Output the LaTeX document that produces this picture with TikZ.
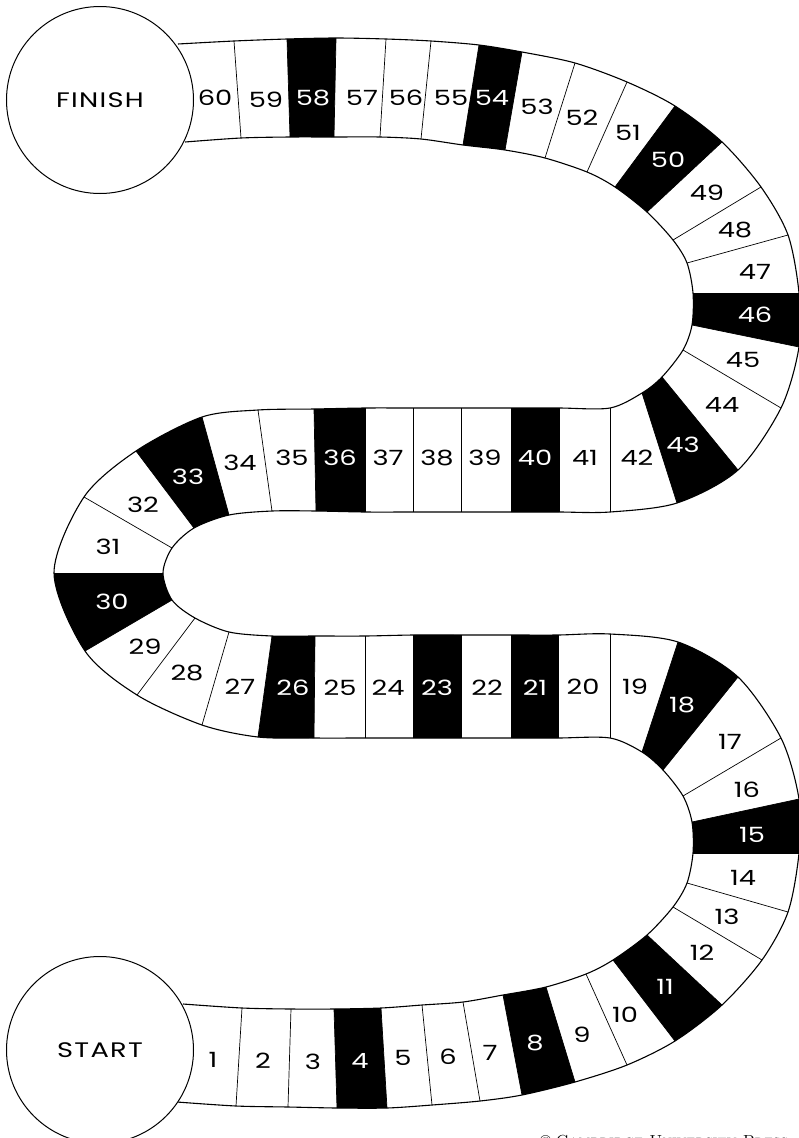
\documentclass[tikz,border=0pt]{standalone}
\usepackage{fontspec}
\newfontfamily\handfont[FakeStretch=1.3]{Poppins}
\newfontfamily\handwide[FakeStretch=1.3,LetterSpace=6]{Poppins}
\usetikzlibrary{calc}

\begin{document}
\begin{tikzpicture}[
    x=1pt,y=-1pt,
    square/.style={font=\handfont\fontsize{21}{21}\selectfont, inner sep=0pt},
    endcircle/.style={circle, draw=black, line width=1pt, fill=white, minimum size=187pt, inner sep=0pt, font=\handwide\fontsize{21}{21}\selectfont},
    rim/.style={draw=black, line width=1.1pt},
    divider/.style={draw=black, line width=0.7pt}
  ]
    \useasboundingbox (0,0) rectangle (798,1138);

    % left-hand edge of the track, start to finish
    \foreach \p [count=\i from 0] in {{183,1004},{242,1008},{291,1009},{334,1009},{381,1008},{422,1005},{463,1002},{503,995},{546,987},{586,974},
      {613,960},{647,935},{673,907},{687,883},{693,853},{692,822},{683,796},{663,770},{642,752},{610,738},
      {558,738},{511,738},{461,738},{413,738},{365,738},{314,738},{258,737},{202,725},{137,695},{85,651},
      {54,573},{84,497},{136,451},{202,417},{258,410},{314,409},{365,408},{413,408},{461,408},{511,408},
      {559,408},{610,408},{642,393},{662,377},{683,350},{692,325},{693,293},{687,263},{673,240},{647,212},
      {615,187},{587,172},{545,158},{505,150},{463,145},{421,139},{380,137},{334,137},{290,137},{241,138},{185,142}}
      \coordinate (a\i) at (\p);
    % right-hand edge
    \foreach \p [count=\i from 0] in {{177,1102},{236,1106},{288,1107},{337,1108},{387,1108},{432,1105},{480,1101},{522,1095},{575,1082},{627,1065},
      {675,1041},{722,1005},{762,960},{788,912},{799,853},{799,799},{781,738},{738,677},{678,642},{610,634},
      {558,635},{511,635},{461,635},{413,635},{365,636},{315,636},{272,636},{229,632},{195,618},{172,600},
      {163,573},{172,548},{194,528},{229,515},{272,511},{316,511},{365,512},{413,512},{461,512},{511,512},
      {559,512},{610,512},{677,503},{738,470},{781,408},{799,347},{799,293},{788,235},{761,187},{722,142},
      {675,106},{627,82},{575,63},{522,52},{479,45},{431,41},{386,39},{336,38},{287,39},{234,41},{178,44}}
      \coordinate (b\i) at (\p);

    % dark squares
    \begin{scope}
      \clip plot[smooth, variable=\k, samples at={0,...,60}] (a\k)
        -- plot[smooth, variable=\k, samples at={60,59,...,0}] (b\k) -- cycle;
      \foreach \n in {4,8,11,15,18,21,23,26,30,33,36,40,43,46,50,54,58} {
        \pgfmathtruncatemacro\m{\n-1}
        \fill[black] ($(a\m)!-0.2!(b\m)$) -- ($(b\m)!-0.2!(a\m)$) -- ($(b\n)!-0.2!(a\n)$) -- ($(a\n)!-0.2!(b\n)$) -- cycle;
      }
    \end{scope}

    \foreach \i in {1,...,59} \draw[divider] (a\i) -- (b\i);
    \draw[rim] plot[smooth, variable=\k, samples at={0,...,60}] (a\k);
    \draw[rim] plot[smooth, variable=\k, samples at={0,...,60}] (b\k);

    \node[endcircle] (start) at (100,1050) {START};
    \node[endcircle] (finish) at (100,100) {FINISH};

    \foreach \n/\p/\c in {1/{213,1060}/black, 2/{263,1061}/black, 3/{313,1062}/black, 4/{360,1061}/white, 5/{403,1058}/black,
      6/{448,1057}/black, 7/{490,1053}/black, 8/{535,1043}/white, 9/{582,1035}/black, 10/{625,1015}/black,
      11/{665,987}/white, 12/{702,953}/black, 13/{727,917}/black, 14/{743,878}/black, 15/{752,835}/white,
      16/{747,790}/black, 17/{730,742}/black, 18/{682,705}/white, 19/{635,687}/black, 20/{583,687}/black,
      21/{535,688}/white, 22/{487,688}/black, 23/{437,688}/white, 24/{388,688}/black, 25/{340,688}/black,
      26/{293,688}/white, 27/{240,687}/black, 28/{187,673}/black, 29/{145,647}/black, 30/{112,602}/white,
      31/{108,547}/black, 32/{143,505}/black, 33/{188,477}/white, 34/{240,463}/black, 35/{292,458}/black,
      36/{340,458}/white, 37/{388,458}/black, 38/{437,458}/black, 39/{485,458}/black, 40/{535,458}/white,
      41/{585,458}/black, 42/{637,458}/black, 43/{683,445}/white, 44/{722,405}/black, 45/{743,360}/black,
      46/{755,315}/white, 47/{755,272}/black, 48/{735,230}/black, 49/{707,193}/black, 50/{668,160}/white,
      51/{628,133}/black, 52/{582,118}/black, 53/{537,107}/black, 54/{492,98}/white, 55/{451,98}/black,
      56/{406,98}/black, 57/{362,98}/black, 58/{313,98}/white, 59/{266,100}/black, 60/{215,98}/black}
      \node[square, text=\c] (c\n) at (\p) {\n};

    \node[anchor=base west, inner sep=0pt, font=\fontsize{16}{16}\selectfont] (press) at (540,1146) {\textcopyright\ \textsc{Cambridge University Press}};
\end{tikzpicture}
\end{document}
